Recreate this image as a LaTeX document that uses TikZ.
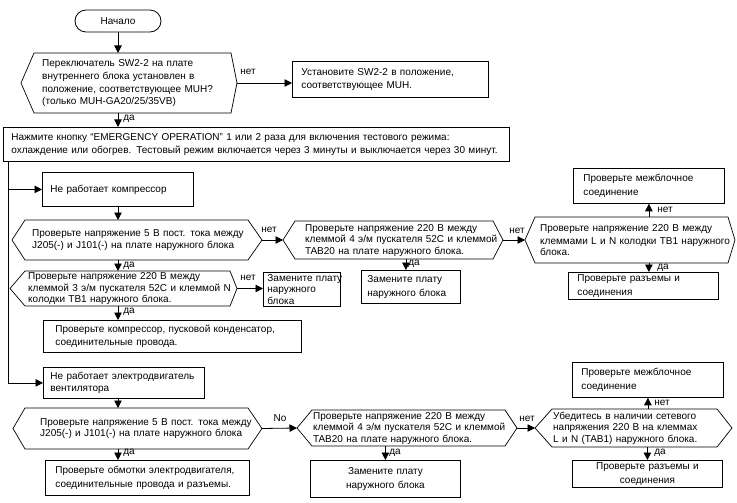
\documentclass[tikz,border=0pt]{standalone}
\usepackage{fontspec}
\setmainfont{Liberation Sans}
\usetikzlibrary{arrows.meta,calc}
\tikzset{
  box/.style={draw, line width=0.8pt, anchor=north west, inner ysep=0pt, align=left, font=\fontsize{10}{13.5}\selectfont},
  hexline/.style={line width=0.7pt, line join=miter},
  hextext/.style={anchor=north west, inner xsep=0pt, inner ysep=0pt, align=left, font=\fontsize{10}{11.5}\selectfont},
  arr/.style={-{Triangle[length=7.5pt,width=7.5pt]}, line width=0.8pt},
  lbl/.style={font=\fontsize{10}{12}\selectfont, inner sep=0pt},
  term/.style={draw, line width=0.8pt, rounded corners=11pt, minimum width=86pt, minimum height=22pt, font=\fontsize{10}{12}\selectfont}
}
% box: [opts]{name}{x1}{y1}{x2}{y2}{pad}{text}
\newcommand\bx[8][]{%
  \pgfmathsetmacro\bxw{#5-#3}\pgfmathsetmacro\bxh{#6-#4}\pgfmathsetmacro\bxt{#5-#3-2*#7}%
  \node[box, minimum width=\bxw pt, minimum height=\bxh pt, text width=\bxt pt, inner xsep=#7pt, #1] (#2) at (#3,#4) {#8};}
% hex: {name}{ltip}{x1}{y1}{x2}{y2}{rtip}{pad}{text}
\newcommand\hx[9]{%
  \pgfmathsetmacro\bxh{#6-#4}\pgfmathsetmacro\bxt{#5-#3-#8+20}\pgfmathsetmacro\bxm{(#4+#6)/2}\pgfmathsetmacro\bxx{#3+#8}%
  \node[hextext, minimum height=\bxh pt, text width=\bxt pt] (#1) at (\bxx,#4) {#9};
  \coordinate (#1-l) at (#2,\bxm);
  \coordinate (#1-r) at (#7,\bxm);
  \draw[hexline] (#3,#4) -- (#5,#4) -- (#1-r) -- (#5,#6) -- (#3,#6) -- (#1-l) -- cycle;}
\begin{document}
\begin{tikzpicture}[x=1pt,y=-1pt]
\useasboundingbox (0,0) rectangle (737,503);
\node[term] (start) at (118,21) {Начало};
\hx{h1}{21}{34}{53}{231}{113}{237}{8}{\fontsize{10}{13}\selectfont\mbox{Переключатель SW2-2 на плате}\\\mbox{внутреннего блока установлен в}\\\mbox{положение, соответствующее MUH?}\\\mbox{(только MUH-GA20/25/35VB)}}
\bx{b2}{292}{61}{488}{97}{9}{\mbox{Установите SW2-2 в положение,}\\\mbox{соответствующее MUH.}}
\bx{b3}{3}{127}{509}{161}{8}{\mbox{Нажмите кнопку “EMERGENCY OPERATION” 1 или 2 раза для включения тестового режима:}\\\mbox{охлаждение или обогрев. Тестовый режим включается через 3 минуты и выключается через 30 минут.}}
\bx{b4}{42}{172}{193}{206}{8}{\mbox{Не работает компрессор}}
\hx{h2}{12}{25}{220}{248}{260}{262}{7}{\fontsize{10}{14}\selectfont\mbox{Проверьте напряжение 5 В пост. тока между}\\\mbox{J205(-) и J101(-) на плате наружного блока}}
\hx{h3}{283}{295}{221}{493}{259}{503}{10}{\mbox{Проверьте напряжение 220 В между}\\\mbox{клеммой 4 э/м пускателя 52C и клеммой}\\\mbox{TAB20 на плате наружного блока.}}
\hx{h4}{525}{535}{217}{728}{263}{735}{5}{\fontsize{10}{12.5}\selectfont\mbox{Проверьте напряжение 220 В между}\\\mbox{клеммами L и N колодки TB1 наружного}\\\mbox{блока.}}
\bx{b5}{573}{168}{724}{203}{10}{\mbox{Проверьте межблочное}\\\mbox{соединение}}
\bx{b6}{568}{272}{718}{299}{9}{\mbox{Проверьте разъемы и}\\\mbox{соединения}}
\bx{b7}{361}{270}{460}{303}{6}{\mbox{Замените плату}\\\mbox{наружного блока}}
\hx{h5}{10}{25}{271}{230}{306}{237}{3}{\mbox{Проверьте напряжение 220 В между}\\\mbox{клеммой 3 э/м пускателя 52C и клеммой N}\\\mbox{колодки TB1 наружного блока.}}
\bx[font=\fontsize{10}{11.5}\selectfont]{b8}{263}{272}{340}{306}{4}{\mbox{Замените плату}\\\mbox{наружного}\\\mbox{блока}}
\bx{b9}{43}{320}{301}{352}{12}{\mbox{Проверьте компрессор, пусковой конденсатор,}\\\mbox{соединительные провода.}}
\bx[font=\fontsize{10}{12}\selectfont]{b10}{43}{367}{204}{398}{7}{\mbox{Не работает электродвигатель}\\\mbox{вентилятора}}
\hx{h6}{13}{25}{408}{248}{449}{262}{15}{\fontsize{10}{14}\selectfont\mbox{Проверьте напряжение 5 В пост. тока между}\\\mbox{J205(-) и J101(-) на плате наружного блока}}
\hx{h7}{297}{312}{410}{505}{446}{517}{1}{\mbox{Проверьте напряжение 220 В между}\\\mbox{клеммой 4 э/м пускателя 52C и клеммой}\\\mbox{TAB20 на плате наружного блока.}}
\hx{h8}{535}{552}{409}{717}{447}{732}{1}{\mbox{Убедитесь в наличии сетевого}\\\mbox{напряжения 220 В на клеммах}\\\mbox{L и N (TAB1) наружного блока.}}
\bx[align=center]{b11}{310}{460}{460}{497}{6}{Замените плату\\наружного блока}
\bx{b12}{572}{362}{723}{397}{9}{\mbox{Проверьте межблочное}\\\mbox{соединение}}
\bx[align=center]{b13}{572}{460}{722}{487}{6}{Проверьте разъемы и\\соединения}
\bx{b14}{45}{460}{249}{495}{10}{\mbox{Проверьте обмотки электродвигателя,}\\\mbox{соединительные провода и разъемы.}}
% connectors
\draw[arr] (start.south) -- (start.south |- h1.north);
\draw[arr] (h1-r) -- (h1-r -| b2.west);
\draw[arr] (start.south |- h1.south) -- (start.south |- b3.north);
\coordinate (lt) at ([xshift=5pt]b3.south west);
\draw[arr] (lt) |- (b4.west);
\draw[arr] (lt) |- (b10.west);
\draw[arr] (start.south |- b4.south) -- (start.south |- h2.north);
\draw[arr] (h2-r) -- (h3-l);
\draw[arr] (h3-r) -- (h4-l);
\draw[arr] (b5.south |- h4.north) -- (b5.south);
\draw[arr] (b5.south |- h4.south) -- (b5.south |- b6.north);
\coordinate (b7a) at ([xshift=-5pt]b7.north);
\draw[arr] (b7a |- h3.south) -- (b7a);
\draw[arr] (start.south |- h2.south) -- (start.south |- h5.north);
\draw[arr] (h5-r) -- (h5-r -| b8.west);
\draw[arr] (start.south |- h5.south) -- (start.south |- b9.north);
\draw[arr] (start.south |- b10.south) -- (start.south |- h6.north);
\draw[arr] (h6-r) -- (h7-l);
\draw[arr] (h7-r) -- (h8-l);
\draw[arr] (b12.south |- h8.north) -- (b12.south);
\draw[arr] (b13.north |- h8.south) -- (b13.north);
\draw[arr] (b11.north |- h7.south) -- (b11.north);
\draw[arr] (start.south |- h6.south) -- (start.south |- b14.north);
% labels
\node[lbl] (l1) at (248,72) {нет};
\node[lbl] (l2) at (129,119) {да};
\node[lbl] (l3) at (269,230) {нет};
\node[lbl] (l4) at (517,231) {нет};
\node[lbl] (l5) at (665,210) {нет};
\node[lbl] (l6) at (663,268) {да};
\node[lbl] (l7) at (414,264) {да};
\node[lbl] (l8) at (129,266) {да};
\node[lbl] (l9) at (248,278) {нет};
\node[lbl] (l10) at (129,312) {да};
\node[lbl] (l11) at (280,418) {No};
\node[lbl] (l12) at (527,419) {нет};
\node[lbl] (l13) at (662,403) {нет};
\node[lbl] (l14) at (660,453) {да};
\node[lbl] (l15) at (395,453) {да};
\node[lbl] (l16) at (129,453) {да};
\end{tikzpicture}
\end{document}
